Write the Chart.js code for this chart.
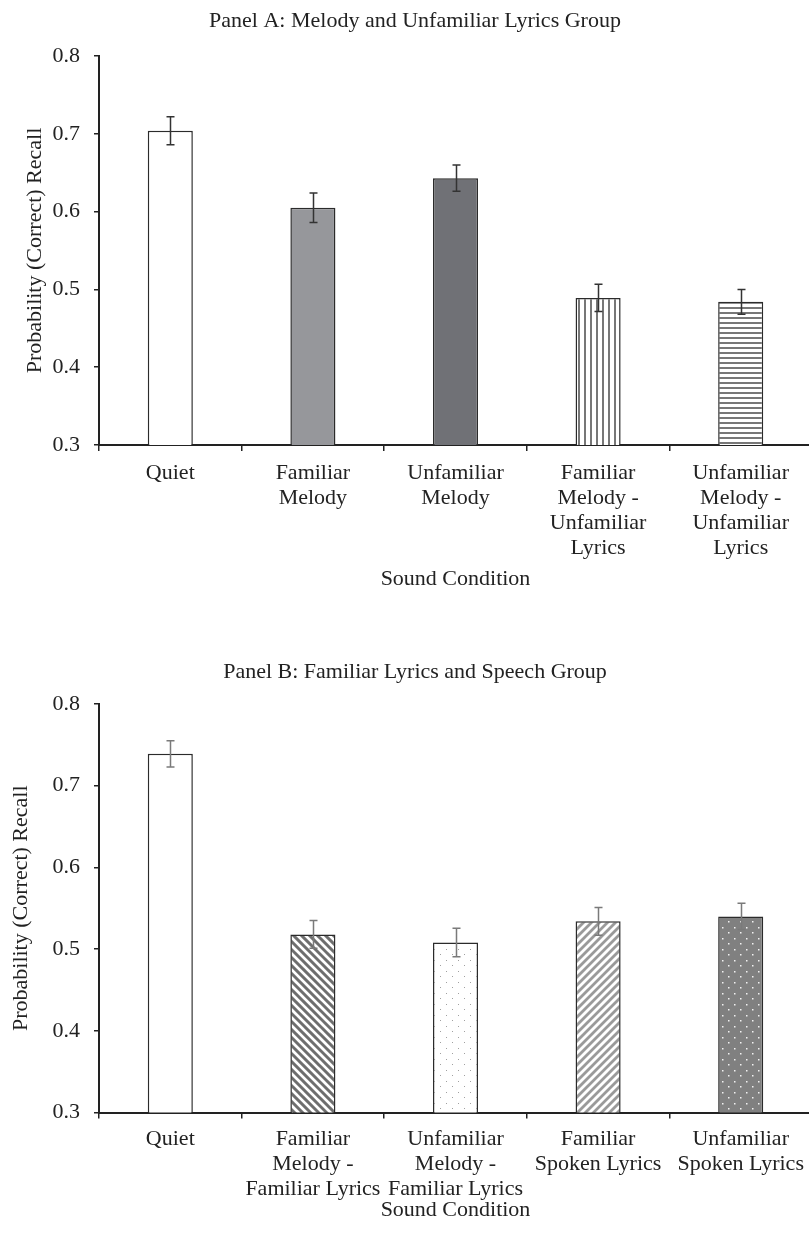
<!DOCTYPE html>
<html><head><meta charset="utf-8">
<script src="https://cdn.jsdelivr.net/npm/chart.js@4.4.1/dist/chart.umd.min.js"></script>
<style>
html,body{margin:0;padding:0;background:#fff;overflow:hidden;width:809px;height:1240px;}
.panel{position:absolute;left:0;}
canvas{display:block;}
</style></head><body>
<div class="panel" style="top:0"><canvas id="cA" width="820" height="600"></canvas></div>
<div class="panel" style="top:650px"><canvas id="cB" width="820" height="590"></canvas></div>
<script>
const titleA = "Panel A: Melody and Unfamiliar Lyrics Group";
const titleB = "Panel B: Familiar Lyrics and Speech Group";
const categoriesA = [["Quiet"],["Familiar","Melody"],["Unfamiliar","Melody"],["Familiar","Melody -","Unfamiliar","Lyrics"],["Unfamiliar","Melody -","Unfamiliar","Lyrics"]];
const valuesA = [0.704, 0.605, 0.643, 0.489, 0.484];
const errorsA = [0.018, 0.019, 0.017, 0.0175, 0.016];
const categoriesB = [["Quiet"],["Familiar","Melody -","Familiar Lyrics"],["Unfamiliar","Melody -","Familiar Lyrics"],["Familiar","Spoken Lyrics"],["Unfamiliar","Spoken Lyrics"]];
const valuesB = [0.739, 0.518, 0.508, 0.534, 0.540];
const errorsB = [0.016, 0.017, 0.0175, 0.017, 0.016];
const yTickValues = [0.3, 0.4, 0.5, 0.6, 0.7, 0.8];
const yAxisTitle = "Probability (Correct) Recall";
const xAxisTitle = "Sound Condition";

function makePattern(w, h, draw) {
  const c = document.createElement('canvas'); c.width = w; c.height = h;
  const g = c.getContext('2d'); draw(g, w, h);
  return g.createPattern(c, 'repeat');
}
const vStripes = makePattern(6, 6, (g, w, h) => { g.fillStyle = '#fff'; g.fillRect(0, 0, w, h); g.fillStyle = '#777'; g.fillRect(2, 0, 2, h); });
const hStripes = makePattern(6, 5, (g, w, h) => { g.fillStyle = '#fff'; g.fillRect(0, 0, w, h); g.fillStyle = '#777'; g.fillRect(0, 2, w, 2); });
function diag(color, back, dir, period, lw) {
  const s = period * 4;
  return makePattern(s, s, (g, w, h) => {
    g.fillStyle = back; g.fillRect(0, 0, w, h);
    g.strokeStyle = color; g.lineWidth = lw; g.lineCap = 'square';
    for (let k = -6; k <= 6; k++) {
      const o = k * period;
      g.beginPath();
      if (dir > 0) { g.moveTo(o - s, -s); g.lineTo(o + 2 * s, 2 * s); }
      else { g.moveTo(o + 2 * s, -s); g.lineTo(o - s, 2 * s); }
      g.stroke();
    }
  });
}
function dots(back, dot, size) {
  return makePattern(12, 11, (g, w, h) => {
    g.fillStyle = back; g.fillRect(0, 0, w, h);
    g.fillStyle = dot; g.fillRect(2, 2, size, size); g.fillRect(8, 7, size, size);
  });
}
const fillsA = ['#ffffff', '#96979b', '#707176', vStripes, hStripes];
const fillsB = ['#ffffff', diag('#6e6e6e', '#fff', 1, 8, 3), dots('#fff', '#a0a0a0', 1), diag('#9a9a9a', '#fff', -1, 8, 2.8), dots('#808080', '#f2f2f2', 1.5)];

const errorBarPlugin = {
  id: 'errbars',
  afterDatasetsDraw(chart, args, opts) {
    const ctx = chart.ctx, meta = chart.getDatasetMeta(0), y = chart.scales.y;
    const vals = chart.data.datasets[0].data, errs = opts.errors;
    ctx.save(); ctx.strokeStyle = opts.color; ctx.lineWidth = 1.5;
    meta.data.forEach((bar, i) => {
      const x = Math.round(bar.x) + 0.5;
      const t = y.getPixelForValue(vals[i] + errs[i]);
      const b = y.getPixelForValue(vals[i] - errs[i]);
      ctx.beginPath();
      ctx.moveTo(x, t); ctx.lineTo(x, b);
      ctx.moveTo(x - 4, t); ctx.lineTo(x + 4, t);
      ctx.moveTo(x - 4, b); ctx.lineTo(x + 4, b);
      ctx.stroke();
    });
    ctx.restore();
  }
};

const FONT = 'Liberation Serif';
const TXT = '#222';
function build(id, title, cats, vals, errs, fills, errColor, geo) {
  const f = (lh) => ({ family: FONT, size: 22, weight: 'normal', lineHeight: lh || 1.2 });
  return new Chart(document.getElementById(id), {
    type: 'bar',
    data: { labels: cats, datasets: [{ data: vals, backgroundColor: fills, borderColor: '#2b2b2b', borderWidth: 1.5, barPercentage: 0.316, categoryPercentage: 1 }] },
    options: {
      responsive: false, animation: false, devicePixelRatio: 1,
      layout: { padding: { left: 18, right: 8, top: 0, bottom: 0 } },
      plugins: {
        legend: { display: false }, tooltip: { enabled: false },
        title: { display: true, text: title, color: TXT, font: f(), padding: { top: geo.tTop, bottom: geo.tBottom } },
        errbars: { errors: errs, color: errColor }
      },
      scales: {
        x: {
          grid: { display: true, drawOnChartArea: false, drawTicks: true, tickLength: 6, color: TXT, lineWidth: 1.5, offset: true },
          border: { display: true, color: TXT, width: 2 },
          ticks: { color: TXT, font: f(1.136), padding: geo.xPad, autoSkip: false, maxRotation: 0, minRotation: 0 },
          title: { display: true, text: xAxisTitle, color: TXT, font: f(), padding: { top: 0, bottom: geo.xtBottom } },
          afterFit: (s) => { s.height = geo.xH; }
        },
        y: {
          min: 0.3, max: 0.8,
          afterBuildTicks: (s) => { s.ticks = yTickValues.map(v => ({ value: v })); },
          grid: { drawOnChartArea: false, drawTicks: true, tickLength: 5, color: TXT, lineWidth: 1.5 },
          border: { display: true, color: TXT, width: 2 },
          ticks: { color: TXT, font: f(), padding: 14, callback: (v) => Number(v).toFixed(1) },
          title: { display: true, text: yAxisTitle, color: TXT, font: f(), padding: { top: geo.ytTop, bottom: 0 } },
          afterFit: (s) => { s.width = 81; }
        }
      }
    },
    plugins: [errorBarPlugin]
  });
}
build('cA', titleA, categoriesA, valuesA, errorsA, fillsA, '#333', { tTop: 8, tBottom: 21.6, xH: 155, xPad: 9.5, xtBottom: 7.8, ytTop: 3.8 });
build('cB', titleB, categoriesB, valuesB, errorsB, fillsB, '#7a7a7a', { tTop: 9, tBottom: 18.6, xH: 127.5, xPad: 8, xtBottom: 16.8, ytTop: -9.7 });
</script>
</body></html>
